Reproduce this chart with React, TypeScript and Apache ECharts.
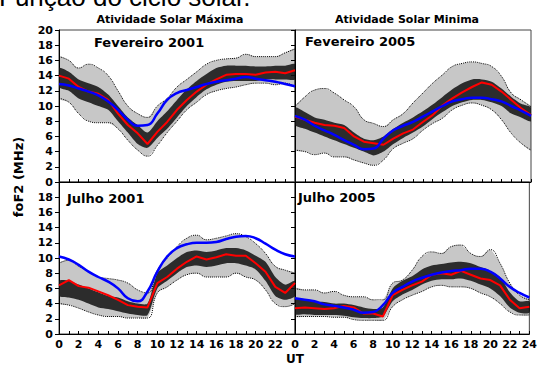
import React, { useEffect, useRef } from "react";
import * as echarts from "echarts";

const hours = [0,1,2,3,4,5,6,7,8,9,10,11,12,13,14,15,16,17,18,19,20,21,22,23,24];
const xTickLabels = ["0","2","4","6","8","10","12","14","16","18","20","22","24"];
const yTickLabels = ["0","2","4","6","8","10","12","14","16","18","20"];

// Fevereiro 2001 (máxima)
const febMaxModel = [12.9,12.7,12.3,11.9,11.4,10.6,9.5,8.2,7.4,7.5,9.0,10.8,11.7,12.1,12.5,12.9,13.2,13.4,13.6,13.8,13.6,13.4,13.2,12.9,12.6];
const febMaxMedian = [14.0,13.6,12.5,11.9,11.6,10.8,9.0,7.5,6.4,5.0,6.6,7.9,9.5,10.8,11.9,12.8,13.5,14.1,14.2,14.2,14.1,14.4,14.5,14.3,14.7];
const febMaxCoreLow = [12.5,12.0,11.0,10.5,10.0,9.5,8.0,6.5,5.0,4.5,5.8,7.0,8.5,10.0,11.2,12.2,12.8,13.2,13.3,13.3,13.3,13.5,13.5,13.5,13.5];
const febMaxCoreHigh = [15.0,14.5,13.5,13.0,12.5,11.5,10.0,8.5,7.5,6.5,8.0,9.3,10.8,12.2,13.3,14.2,15.0,15.3,15.3,15.3,15.2,15.2,15.3,15.3,15.5];
const febMaxLow = [11.0,10.5,9.0,8.0,7.8,7.8,7.0,5.5,4.2,3.4,4.8,6.5,8.0,9.5,10.5,11.5,12.0,12.3,12.5,12.8,13.0,13.0,12.8,13.0,12.5];
const febMaxHigh = [16.5,16.0,15.0,15.5,15.0,14.0,12.0,10.0,9.0,8.5,10.0,11.0,12.5,13.5,14.5,15.5,16.0,16.2,16.3,16.8,16.5,16.5,16.5,17.0,17.5];

// Fevereiro 2005 (mínima)
const febMinModel = [8.7,8.2,7.4,6.8,6.2,5.5,4.9,4.3,4.4,5.7,6.8,7.4,7.9,8.6,9.3,10.0,10.6,10.9,11.1,11.1,10.9,10.6,10.0,9.4,8.7];
const febMinMedian = [8.6,8.2,7.8,7.5,7.4,7.1,6.0,5.3,5.1,4.9,5.7,6.4,6.9,7.9,8.8,10.1,11.0,11.8,12.5,13.1,12.8,11.9,10.8,9.7,8.8];
const febMinCoreLow = [7.5,7.0,6.5,6.0,5.5,5.0,4.5,4.0,3.5,4.0,5.0,5.8,6.5,7.3,8.3,9.2,10.0,10.5,10.8,10.8,10.5,10.0,9.0,8.5,8.0];
const febMinCoreHigh = [9.8,9.2,8.5,8.2,7.8,7.5,6.5,5.7,5.5,6.0,7.0,7.8,8.5,9.3,10.2,11.2,12.2,13.0,13.5,13.5,13.2,12.3,11.2,10.3,9.8];
const febMinLow = [4.2,4.0,3.6,3.8,3.3,3.3,2.9,2.5,2.2,2.9,4.4,5.1,5.7,6.8,7.7,8.4,9.5,10.1,10.4,10.1,9.5,8.2,6.4,5.1,4.2];
const febMinHigh = [9.9,11.2,12.1,12.3,11.7,10.8,9.9,8.2,7.7,7.3,8.2,9.0,10.4,11.7,13.0,14.1,15.2,15.6,15.8,15.6,15.2,13.9,11.7,10.8,9.9];

// Julho 2001 (máxima)
const julMaxModel = [10.2,9.8,9.1,8.2,7.5,6.9,6.0,4.7,4.3,5.6,8.2,10.2,11.3,11.8,12.0,12.0,12.1,12.5,12.8,12.9,12.6,11.9,11.1,10.5,10.2];
const julMaxMedian = [6.4,7.1,6.3,6.1,5.6,5.1,4.5,3.8,3.6,3.5,6.7,7.5,8.6,9.5,10.2,9.8,10.1,10.5,10.3,10.3,9.3,8.2,6.2,5.4,6.7];
const julMaxCoreLow = [5.0,4.8,4.5,4.0,3.5,3.3,3.0,2.7,2.5,2.5,6.0,7.0,8.0,8.8,9.0,8.8,9.0,9.3,9.3,9.0,8.5,7.0,5.0,4.5,5.0];
const julMaxCoreHigh = [7.0,7.0,6.5,6.0,5.5,5.0,4.8,4.3,4.0,4.0,8.0,9.0,10.0,10.8,11.0,10.8,11.0,11.3,11.3,11.0,10.3,9.5,7.5,6.5,7.0];
const julMaxLow = [4.0,3.8,3.4,2.9,2.5,2.3,2.3,2.1,2.1,2.1,5.4,6.2,7.1,7.8,8.0,7.5,7.5,7.5,8.0,7.5,7.1,5.8,4.0,3.6,4.0];
const julMaxHigh = [9.3,9.7,8.9,8.2,7.5,7.3,7.1,6.7,5.8,5.4,8.4,10.0,11.5,12.6,13.0,12.4,12.6,12.9,13.2,12.8,11.9,10.6,8.9,8.4,8.0];

// Julho 2005 (mínima)
const julMinModel = [4.7,4.5,4.3,3.9,3.7,3.5,3.2,2.8,2.9,3.8,5.4,6.2,6.9,7.4,7.8,8.1,8.3,8.4,8.6,8.6,8.2,7.3,6.2,5.4,4.8];
const julMinMedian = [3.4,3.5,3.4,3.3,3.4,3.7,3.5,2.7,2.7,2.3,5.1,5.8,6.4,6.9,7.8,8.0,7.8,8.3,7.8,7.3,7.1,6.4,4.5,3.4,3.6];
const julMinCoreLow = [2.6,2.6,2.5,2.5,2.5,2.4,2.2,2.1,2.1,2.3,4.3,5.2,5.8,6.5,7.0,7.2,7.2,7.3,7.0,6.5,6.0,5.0,3.5,2.8,2.8];
const julMinCoreHigh = [4.5,4.5,4.3,4.2,4.0,4.0,3.8,3.5,3.3,3.5,6.0,7.0,7.6,8.5,9.0,9.2,9.4,9.5,9.3,8.8,8.3,7.5,5.5,4.3,4.3];
const julMinLow = [2.3,2.3,2.3,2.3,2.2,2.2,1.9,1.8,1.8,1.8,3.6,4.5,5.1,5.6,6.2,6.4,6.2,6.2,6.0,5.4,4.9,4.0,2.9,2.5,2.5];
const julMinHigh = [6.0,5.8,5.8,5.4,5.6,5.1,4.9,4.9,4.5,4.5,6.7,7.1,8.4,10.2,10.8,10.6,11.5,11.7,10.6,10.2,11.1,9.3,6.7,5.1,4.5];

const panels = [
  { model: febMaxModel, median: febMaxMedian, coreLow: febMaxCoreLow, coreHigh: febMaxCoreHigh, low: febMaxLow, high: febMaxHigh },
  { model: febMinModel, median: febMinMedian, coreLow: febMinCoreLow, coreHigh: febMinCoreHigh, low: febMinLow, high: febMinHigh },
  { model: julMaxModel, median: julMaxMedian, coreLow: julMaxCoreLow, coreHigh: julMaxCoreHigh, low: julMaxLow, high: julMaxHigh },
  { model: julMinModel, median: julMinMedian, coreLow: julMinCoreLow, coreHigh: julMinCoreHigh, low: julMinLow, high: julMinHigh },
];

const FONT = '"DejaVu Sans", sans-serif';

function pairs(arr: number[]) {
  return hours.map((h, i) => [h, arr[i]]);
}

function band(idx: number, low: number[], high: number[], fill: string, opacity: number, z: number) {
  return {
    type: "custom",
    xAxisIndex: idx,
    yAxisIndex: idx,
    data: [[0, 0]],
    silent: true,
    clip: true,
    z,
    renderItem: (_p: any, api: any) => {
      const pts: number[][] = [];
      for (let k = 0; k < hours.length; k++) pts.push(api.coord([hours[k], low[k]]));
      for (let k = hours.length - 1; k >= 0; k--) pts.push(api.coord([hours[k], high[k]]));
      return { type: "polygon", shape: { points: pts, smooth: 0.25 }, style: { fill, opacity } };
    },
  };
}

function line(idx: number, arr: number[], color: string, width: number, smooth: boolean, z: number, dotted = false) {
  return {
    type: "line",
    xAxisIndex: idx,
    yAxisIndex: idx,
    data: pairs(arr),
    showSymbol: false,
    symbol: "none",
    smooth,
    silent: true,
    z,
    lineStyle: { color, width, type: dotted ? "dotted" : "solid" },
  };
}

export default function App() {
  const ref = useRef<HTMLDivElement>(null);
  useEffect(() => {
    document.body.style.margin = "0";
    if (!ref.current) return;
    const chart = echarts.init(ref.current, undefined, { renderer: "svg" });
    const L = 59, R = 295, W = 236, T = 30, B = 182, H = 152;
    const grids = [
      { left: L, top: T, width: W, height: H },
      { left: R, top: T, width: W, height: H },
      { left: L, top: B, width: W, height: H },
      { left: R, top: B, width: W, height: H },
    ].map((g) => ({ ...g, show: true, borderColor: "#444", borderWidth: 1, backgroundColor: "transparent", containLabel: false }));

    const xAxes = grids.map((_, i) => ({
      type: "value",
      gridIndex: i,
      min: 0,
      max: 24,
      interval: 2,
      axisLine: { show: true, lineStyle: { color: "#000", width: 1 } },
      axisTick: { show: true, inside: true, length: 3, lineStyle: { color: "#000" } },
      minorTick: { show: true, splitNumber: 2, length: 3, lineStyle: { color: "#000" } },
      splitLine: { show: false },
      axisLabel: {
        show: i >= 2,
        margin: 5,
        color: "#000",
        fontFamily: FONT,
        fontWeight: "bold",
        fontSize: 11,
        formatter: (v: number) => {
          const s = String(v);
          if (i === 2 && v === 24) return "";
          return xTickLabels.includes(s) ? s : "";
        },
      },
    }));

    const yAxes = grids.map((_, i) => ({
      type: "value",
      gridIndex: i,
      min: 0,
      max: 20,
      interval: 2,
      axisLine: { show: true, lineStyle: { color: "#000", width: 1 } },
      axisTick: { show: true, inside: false, length: 4, lineStyle: { color: "#000" } },
      splitLine: { show: false },
      axisLabel: {
        show: i === 0 || i === 2,
        margin: 6,
        color: "#000",
        fontFamily: FONT,
        fontWeight: "bold",
        fontSize: 11,
        formatter: (v: number) => {
          const s = String(v);
          if (i === 2 && v === 20) return "";
          return yTickLabels.includes(s) ? s : "";
        },
      },
    }));

    const series: any[] = [];
    panels.forEach((p, i) => {
      series.push(band(i, p.low, p.high, "#000", 0.22, 1));
      series.push(line(i, p.low, "#000", 1, true, 2, true));
      series.push(line(i, p.high, "#000", 1, true, 2, true));
      series.push(band(i, p.coreLow, p.coreHigh, "#111", 0.85, 3));
      series.push(line(i, p.median, "#ff0000", 2, false, 4));
      series.push(line(i, p.model, "#0000ff", 2.5, true, 5));
    });

    const txt = (text: string, x: number, y: number, size: number, align = "left", extra: any = {}) => ({
      type: "text",
      x,
      y,
      z: 100,
      ...extra,
      style: {
        text,
        fill: "#000",
        font: `bold ${size}px ${FONT}`,
        align,
        verticalAlign: "middle",
        textAlign: align,
        textVerticalAlign: "middle",
      },
    });

    chart.setOption({
      animation: false,
      backgroundColor: "#fff",
      grid: grids,
      xAxis: xAxes,
      yAxis: yAxes,
      series,
      graphic: [
        {
          type: "text",
          x: -1,
          y: -3,
          z: 100,
          style: {
            text: "Função do ciclo solar.",
            fill: "#000",
            font: '26px "Liberation Sans", Arial, sans-serif',
            align: "left",
            verticalAlign: "middle",
            textAlign: "left",
            textVerticalAlign: "middle",
          },
        },
        txt("Atividade Solar Máxima", 170, 19, 11, "center"),
        txt("Atividade Solar Minima", 407, 19, 11, "center"),
        txt("Fevereiro 2001", 94, 42, 13),
        txt("Fevereiro 2005", 305, 41, 13),
        txt("Julho 2001", 67, 198, 13),
        txt("Julho 2005", 298, 197, 13),
        txt("foF2 (MHz)", 18, 177, 13, "center", { rotation: Math.PI / 2 }),
        txt("UT", 295, 359, 12, "center"),
      ],
    });
    return () => chart.dispose();
  }, []);
  return <div ref={ref} style={{ width: 540, height: 365 }} />;
}
